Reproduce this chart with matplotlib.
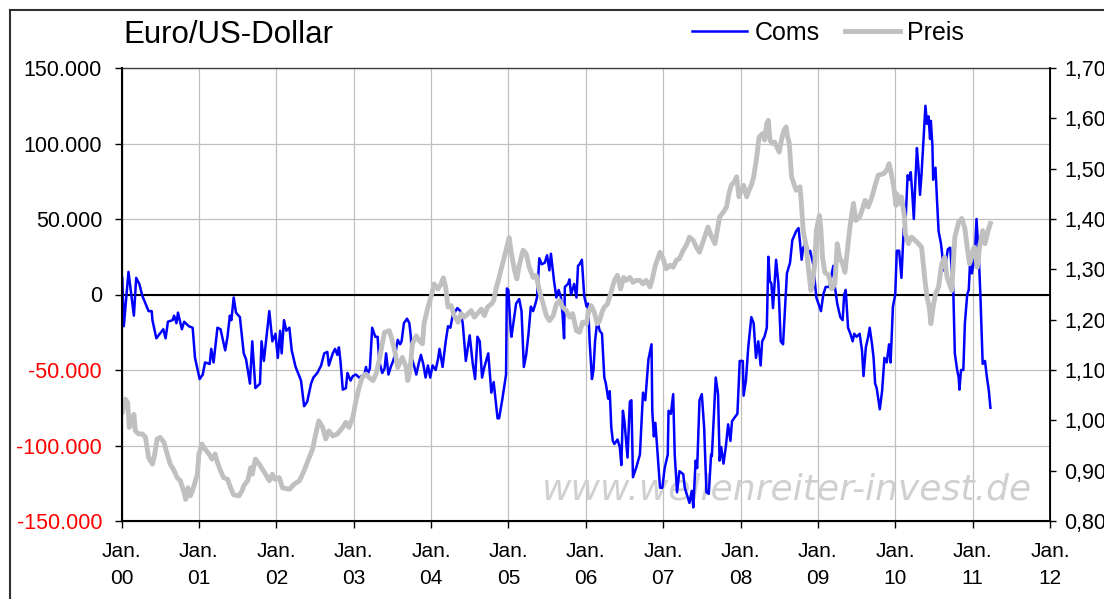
import numpy as np
import matplotlib
matplotlib.use("Agg")
from matplotlib import pyplot as plt
from matplotlib.lines import Line2D

# --- DATA (years after Jan. 2000) ---
# Coms in thousand contracts
coms_t = [0.01, 0.03, 0.09, 0.16, 0.19, 0.23, 0.27, 0.31, 0.35, 0.39, 0.40, 0.45, 0.48, 0.54, 0.57, 0.60, 0.66, 0.68, 0.71, 0.73, 0.78, 0.81, 0.87, 0.92, 0.95,
          1.01, 1.05, 1.08, 1.14, 1.16, 1.19, 1.24, 1.28, 1.34, 1.37, 1.40, 1.42, 1.45, 1.48, 1.53, 1.58, 1.61, 1.66, 1.69, 1.73, 1.79, 1.81, 1.84, 1.91, 1.95, 1.99,
          2.02, 2.05, 2.07, 2.10, 2.13, 2.17, 2.20, 2.25, 2.29, 2.32, 2.36, 2.40, 2.45, 2.48, 2.53, 2.58, 2.62, 2.66, 2.68, 2.73, 2.76, 2.79, 2.81, 2.83, 2.86, 2.90, 2.92, 2.96, 2.99,
          3.03, 3.07, 3.14, 3.16, 3.18, 3.21, 3.24, 3.28, 3.31, 3.33, 3.37, 3.40, 3.42, 3.45, 3.48, 3.51, 3.54, 3.57, 3.60, 3.62, 3.65, 3.69, 3.72, 3.74, 3.75, 3.78, 3.81, 3.84, 3.87, 3.90, 3.93, 3.96, 3.99,
          4.02, 4.06, 4.09, 4.11, 4.15, 4.19, 4.22, 4.25, 4.28, 4.34, 4.38, 4.41, 4.45, 4.50, 4.54, 4.57, 4.60, 4.63, 4.66, 4.69, 4.74, 4.78, 4.81, 4.86, 4.88, 4.92, 4.97, 4.98,
          5.00, 5.03, 5.04, 5.10, 5.14, 5.17, 5.20, 5.23, 5.26, 5.29, 5.32, 5.35, 5.37, 5.40, 5.43, 5.47, 5.50, 5.53, 5.55, 5.59, 5.62, 5.65, 5.68, 5.70, 5.72, 5.73, 5.77, 5.79, 5.81, 5.85, 5.88, 5.90, 5.92, 5.95, 5.98,
          6.01, 6.03, 6.05, 6.08, 6.10, 6.12, 6.15, 6.18, 6.21, 6.24, 6.26, 6.29, 6.31, 6.33, 6.35, 6.37, 6.41, 6.44, 6.46, 6.48, 6.50, 6.54, 6.57, 6.59, 6.61, 6.65, 6.70, 6.74, 6.77, 6.81, 6.85, 6.86, 6.88, 6.90, 6.93, 6.96, 6.99,
          7.02, 7.06, 7.07, 7.10, 7.13, 7.15, 7.18, 7.21, 7.26, 7.28, 7.31, 7.34, 7.37, 7.39, 7.42, 7.44, 7.47, 7.50, 7.53, 7.56, 7.59, 7.62, 7.63, 7.66, 7.68, 7.71, 7.73, 7.75, 7.78, 7.81, 7.84, 7.87, 7.89, 7.93, 7.96, 7.99,
          8.03, 8.04, 8.07, 8.10, 8.14, 8.17, 8.20, 8.23, 8.26, 8.28, 8.31, 8.34, 8.36, 8.38, 8.40, 8.42, 8.46, 8.49, 8.52, 8.55, 8.60, 8.64, 8.67, 8.72, 8.75, 8.77, 8.79, 8.81, 8.85, 8.88, 8.90, 8.94, 8.98,
          9.04, 9.07, 9.10, 9.15, 9.18, 9.20, 9.22, 9.25, 9.29, 9.32, 9.34, 9.36, 9.39, 9.42, 9.45, 9.47, 9.50, 9.54, 9.57, 9.59, 9.62, 9.65, 9.67, 9.70, 9.72, 9.74, 9.76, 9.80, 9.83, 9.86, 9.89, 9.92, 9.94, 9.97,
          10.00, 10.02, 10.05, 10.08, 10.11, 10.13, 10.16, 10.18, 10.20, 10.22, 10.24, 10.26, 10.28, 10.30, 10.32, 10.34, 10.37, 10.39, 10.41, 10.43, 10.45, 10.46, 10.48, 10.49, 10.52, 10.54, 10.56, 10.59, 10.61, 10.62, 10.65, 10.68, 10.71, 10.73, 10.75, 10.77, 10.80, 10.82, 10.83, 10.85, 10.88, 10.90, 10.93, 10.95, 10.97, 10.99,
          11.01, 11.03, 11.05, 11.08, 11.10, 11.13, 11.16, 11.18, 11.21, 11.23]
coms_k = [11, -21, 15, -14, 11, 7, -1, -6, -11, -11, -17, -29, -27, -23, -29, -18, -17, -14, -19, -12, -23, -18, -21, -22, -42,
          -56, -53, -45, -46, -36, -45, -22, -23, -37, -28, -14, -17, -2, -12, -15, -39, -43, -59, -31, -62, -59, -31, -44, -11, -31, -26,
          -42, -24, -39, -17, -24, -22, -37, -48, -53, -57, -74, -71, -59, -55, -52, -47, -39, -38, -47, -39, -36, -40, -35, -44, -63, -62, -52, -57, -54,
          -53, -55, -53, -48, -53, -49, -22, -28, -28, -44, -52, -49, -39, -53, -48, -44, -39, -30, -33, -31, -19, -16, -19, -28, -42, -47, -53, -46, -40, -46, -55, -47, -55,
          -47, -50, -43, -36, -48, -31, -21, -22, -14, -9, -11, -19, -44, -27, -46, -56, -28, -31, -55, -48, -39, -65, -58, -82, -82, -70, -53, 4,
          3, -24, -28, -6, -3, -11, -48, -40, -26, -8, -11, -6, -2, 24, 20, 21, 26, 16, 27, 9, -2, 3, -2, -13, -29, 5, 7, 10, 0, 7, -2, 19, 20, 23, -1,
          -8, -6, -31, -56, -50, -31, -17, -24, -26, -55, -59, -69, -64, -88, -97, -99, -96, -101, -113, -77, -84, -108, -71, -70, -121, -115, -106, -65, -70, -43, -33, -77, -94, -85, -106, -128, -128,
          -115, -106, -77, -79, -66, -106, -131, -117, -119, -128, -133, -138, -130, -141, -110, -115, -70, -66, -88, -131, -132, -106, -107, -75, -55, -66, -110, -101, -112, -101, -86, -97, -84, -81, -79, -44,
          -44, -67, -57, -35, -15, -19, -42, -31, -47, -31, -28, -22, 25, 9, 7, -9, 23, 7, -31, -33, 14, 21, 36, 42, 44, 34, 23, 31, 34, 27, 29, 20, -2,
          -11, 0, 5, 5, 14, 19, 5, -6, -15, -17, 0, 3, -22, -26, -31, -26, -28, -26, -37, -54, -35, -28, -22, -33, -42, -59, -62, -76, -64, -42, -45, -33, -45, -8,
          0, 29, 29, 11, 44, 45, 79, 76, 81, 67, 50, 75, 97, 84, 66, 80, 107, 125, 113, 118, 103, 115, 99, 76, 84, 62, 42, 34, 25, 16, 20, 30, 31, 16, 3, -39, -50, -55, -63, -50, -50, -19, 0, 3, 25, 14,
          20, 27, 50, 25, 0, -46, -44, -53, -64, -75]

# Preis EUR/USD
preis_t = [0.01, 0.05, 0.08, 0.10, 0.14, 0.16, 0.18, 0.22, 0.27, 0.31, 0.35, 0.40, 0.43, 0.46, 0.50, 0.55, 0.59, 0.63, 0.68, 0.72, 0.76, 0.81, 0.83, 0.86, 0.89, 0.93, 0.98,
           1.00, 1.04, 1.08, 1.13, 1.17, 1.21, 1.24, 1.28, 1.32, 1.37, 1.41, 1.45, 1.52, 1.56, 1.58, 1.63, 1.67, 1.69, 1.73, 1.78, 1.82, 1.85, 1.91, 1.95, 1.98,
           2.04, 2.08, 2.17, 2.23, 2.30, 2.36, 2.40, 2.47, 2.51, 2.55, 2.60, 2.64, 2.68, 2.73, 2.79, 2.86, 2.90, 2.94, 2.99,
           3.03, 3.07, 3.11, 3.16, 3.20, 3.25, 3.29, 3.33, 3.37, 3.40, 3.46, 3.50, 3.54, 3.57, 3.63, 3.68, 3.70, 3.72, 3.74, 3.76, 3.81, 3.85, 3.89, 3.91, 3.96,
           4.00, 4.04, 4.09, 4.12, 4.16, 4.19, 4.22, 4.26, 4.30, 4.35, 4.39, 4.43, 4.48, 4.52, 4.56, 4.60, 4.65, 4.69, 4.73, 4.78, 4.81, 4.84, 4.88, 4.93, 4.97,
           5.01, 5.04, 5.08, 5.11, 5.14, 5.19, 5.23, 5.27, 5.32, 5.36, 5.40, 5.45, 5.49, 5.53, 5.58, 5.62, 5.66, 5.70, 5.75, 5.79, 5.83, 5.88, 5.92, 5.96,
           6.01, 6.03, 6.07, 6.11, 6.15, 6.18, 6.21, 6.24, 6.28, 6.32, 6.37, 6.41, 6.45, 6.49, 6.52, 6.57, 6.61, 6.65, 6.70, 6.74, 6.78, 6.83, 6.86, 6.90, 6.96,
           7.00, 7.04, 7.09, 7.13, 7.17, 7.21, 7.26, 7.30, 7.34, 7.39, 7.43, 7.47, 7.52, 7.58, 7.62, 7.67, 7.70, 7.73, 7.78, 7.82, 7.85, 7.88, 7.92, 7.95, 7.98,
           8.01, 8.04, 8.08, 8.11, 8.14, 8.17, 8.21, 8.24, 8.29, 8.31, 8.34, 8.36, 8.38, 8.41, 8.44, 8.47, 8.50, 8.53, 8.56, 8.59, 8.60, 8.63, 8.66, 8.69, 8.72, 8.77, 8.79, 8.81, 8.85, 8.88, 8.91, 8.93, 8.96, 8.98,
           9.02, 9.04, 9.06, 9.09, 9.14, 9.18, 9.22, 9.25, 9.28, 9.32, 9.35, 9.39, 9.42, 9.46, 9.49, 9.54, 9.57, 9.61, 9.65, 9.70, 9.74, 9.78, 9.85, 9.89, 9.92, 9.95, 9.98,
           10.01, 10.02, 10.05, 10.08, 10.12, 10.13, 10.17, 10.21, 10.26, 10.30, 10.34, 10.38, 10.41, 10.44, 10.46, 10.49, 10.52, 10.56, 10.60, 10.64, 10.67, 10.70, 10.73, 10.77, 10.82, 10.86, 10.90, 10.93, 10.96, 10.99,
           11.02, 11.06, 11.09, 11.13, 11.16, 11.20, 11.23]
preis_p = [1.016, 1.042, 1.035, 0.986, 0.993, 1.012, 0.979, 0.973, 0.973, 0.966, 0.926, 0.913, 0.933, 0.963, 0.966, 0.956, 0.933, 0.913, 0.900, 0.886, 0.880, 0.856, 0.843, 0.866, 0.850, 0.866, 0.893,
           0.933, 0.953, 0.943, 0.933, 0.923, 0.933, 0.916, 0.900, 0.886, 0.883, 0.866, 0.852, 0.850, 0.861, 0.870, 0.880, 0.906, 0.893, 0.923, 0.913, 0.903, 0.896, 0.880, 0.893, 0.883,
           0.886, 0.866, 0.863, 0.873, 0.880, 0.900, 0.916, 0.943, 0.973, 0.999, 0.986, 0.963, 0.979, 0.969, 0.973, 0.986, 0.996, 0.986, 1.006,
           1.039, 1.065, 1.085, 1.092, 1.085, 1.079, 1.092, 1.119, 1.152, 1.175, 1.178, 1.158, 1.132, 1.105, 1.125, 1.105, 1.079, 1.092, 1.119, 1.152, 1.168, 1.158, 1.152, 1.192, 1.225,
           1.245, 1.271, 1.261, 1.268, 1.283, 1.264, 1.225, 1.228, 1.208, 1.195, 1.212, 1.205, 1.212, 1.218, 1.205, 1.212, 1.221, 1.208, 1.225, 1.231, 1.238, 1.261, 1.284, 1.314, 1.338,
           1.363, 1.331, 1.298, 1.281, 1.308, 1.338, 1.331, 1.304, 1.284, 1.288, 1.258, 1.231, 1.208, 1.198, 1.208, 1.231, 1.238, 1.225, 1.218, 1.205, 1.212, 1.178, 1.175, 1.195,
           1.192, 1.212, 1.228, 1.215, 1.192, 1.198, 1.215, 1.225, 1.231, 1.251, 1.278, 1.288, 1.261, 1.284, 1.278, 1.284, 1.274, 1.278, 1.278, 1.271, 1.278, 1.265, 1.281, 1.308, 1.334,
           1.321, 1.301, 1.308, 1.304, 1.318, 1.321, 1.338, 1.348, 1.364, 1.357, 1.344, 1.334, 1.357, 1.384, 1.367, 1.351, 1.377, 1.404, 1.414, 1.424, 1.450, 1.467, 1.474, 1.484, 1.444,
           1.457, 1.467, 1.444, 1.457, 1.467, 1.484, 1.523, 1.563, 1.570, 1.557, 1.590, 1.596, 1.557, 1.550, 1.553, 1.543, 1.533, 1.557, 1.576, 1.583, 1.570, 1.550, 1.484, 1.470, 1.457, 1.464, 1.424, 1.377, 1.344, 1.298, 1.258, 1.271, 1.311, 1.377,
           1.407, 1.377, 1.324, 1.294, 1.288, 1.261, 1.271, 1.351, 1.324, 1.311, 1.294, 1.351, 1.391, 1.431, 1.397, 1.404, 1.417, 1.437, 1.424, 1.444, 1.467, 1.487, 1.490, 1.497, 1.510, 1.490, 1.464,
           1.427, 1.450, 1.431, 1.444, 1.404, 1.371, 1.351, 1.364, 1.357, 1.351, 1.344, 1.284, 1.245, 1.225, 1.192, 1.225, 1.251, 1.265, 1.311, 1.324, 1.284, 1.271, 1.258, 1.364, 1.394, 1.401, 1.381, 1.344, 1.311, 1.331,
           1.344, 1.304, 1.344, 1.377, 1.351, 1.377, 1.391]

years = list(range(2000, 2013))
year_labels = ["Jan.\n%02d" % (y % 100) for y in years]
left_ticks = [-150000, -100000, -50000, 0, 50000, 100000, 150000]
right_ticks = [0.8, 0.9, 1.0, 1.1, 1.2, 1.3, 1.4, 1.5, 1.6, 1.7]

coms_x = 2000 + np.array(coms_t)
coms_y = np.array(coms_k) * 1000
preis_x = 2000 + np.array(preis_t)
preis_y = np.array(preis_p)

plt.rcParams['font.family'] = ['Liberation Sans', 'DejaVu Sans']

W, H = 1104, 599
fig = plt.figure(figsize=(W / 100, H / 100), dpi=100)
ax = fig.add_axes([121.5 / W, 1 - 521 / H, (1050 - 121.5) / W, (521 - 68) / H])

# --- left axis: Coms ---
ax.set_xlim(2000, 2012)
ax.set_ylim(-150000, 150000)
ax.set_xticks(years, year_labels)
for lab in ax.get_xticklabels():
    lab.set_linespacing(1.55)
ax.set_yticks(left_ticks, [("%d" % v if v == 0 else "{:,}".format(v).replace(",", ".")) for v in left_ticks])
for lab, v in zip(ax.get_yticklabels(), left_ticks):
    if v < 0:
        lab.set_color('red')
ax.grid(True, color='#c0c0c0', linewidth=0.9, zorder=0)
ax.set_axisbelow(True)
ax.axhline(0, color='black', linewidth=1.5, zorder=3)

ax.text(0.717, 0.07, "www.wellenreiter-invest.de", transform=ax.transAxes,
        ha='center', va='center', fontsize=26, style='italic',
        family='DejaVu Sans', color='#d0d0d0', zorder=1)

ax.plot(coms_x, coms_y, color='#0000ff', linewidth=1.8, zorder=4)

ax.tick_params(axis='y', direction='out', length=5, width=1, pad=9, labelsize=15.5)
ax.tick_params(axis='x', direction='out', length=5, width=1, pad=10, labelsize=15)
ax.spines['left'].set_linewidth(1.5)
ax.spines['bottom'].set_linewidth(1.5)
ax.spines['top'].set_color('#404040')
ax.spines['top'].set_linewidth(1)

# --- right axis: Preis (labels run off the right edge, as in the original) ---
ax2 = ax.twinx()
ax2.set_ylim(0.8, 1.7)
ax2.set_yticks(right_ticks, [("%.2f" % v).replace(".", ",") for v in right_ticks])
ax2.plot(preis_x, preis_y, color='#c0c0c0', linewidth=3.5, solid_joinstyle='round')
ax2.tick_params(axis='y', direction='out', length=4.5, width=1, pad=5.5, labelsize=15.5)
ax2.spines['right'].set_linewidth(1.3)
ax2.spines['top'].set_visible(False)

# --- title, legend, frame ---
fig.text(123 / W, 1 - 35 / H, "Euro/US-Dollar", fontsize=22.5, va='center', ha='left')

handles = [Line2D([], [], color='#0000ff', linewidth=1.8),
           Line2D([], [], color='#c0c0c0', linewidth=3.5)]
fig.legend(handles, ["Coms", "Preis"], loc='center left',
           bbox_to_anchor=(692 / W, 1 - 33 / H), ncol=2, frameon=False,
           fontsize=18, handlelength=2.2, handletextpad=0.3,
           columnspacing=1.0, borderpad=0, borderaxespad=0)

fig.add_artist(Line2D([10 / W, 10 / W], [0, 1 - 10 / H], transform=fig.transFigure,
                      color='#303030', linewidth=1.5))
fig.add_artist(Line2D([10 / W, 1], [1 - 10 / H, 1 - 10 / H], transform=fig.transFigure,
                      color='#303030', linewidth=1.5))

fig.savefig("out.png", dpi=100)
